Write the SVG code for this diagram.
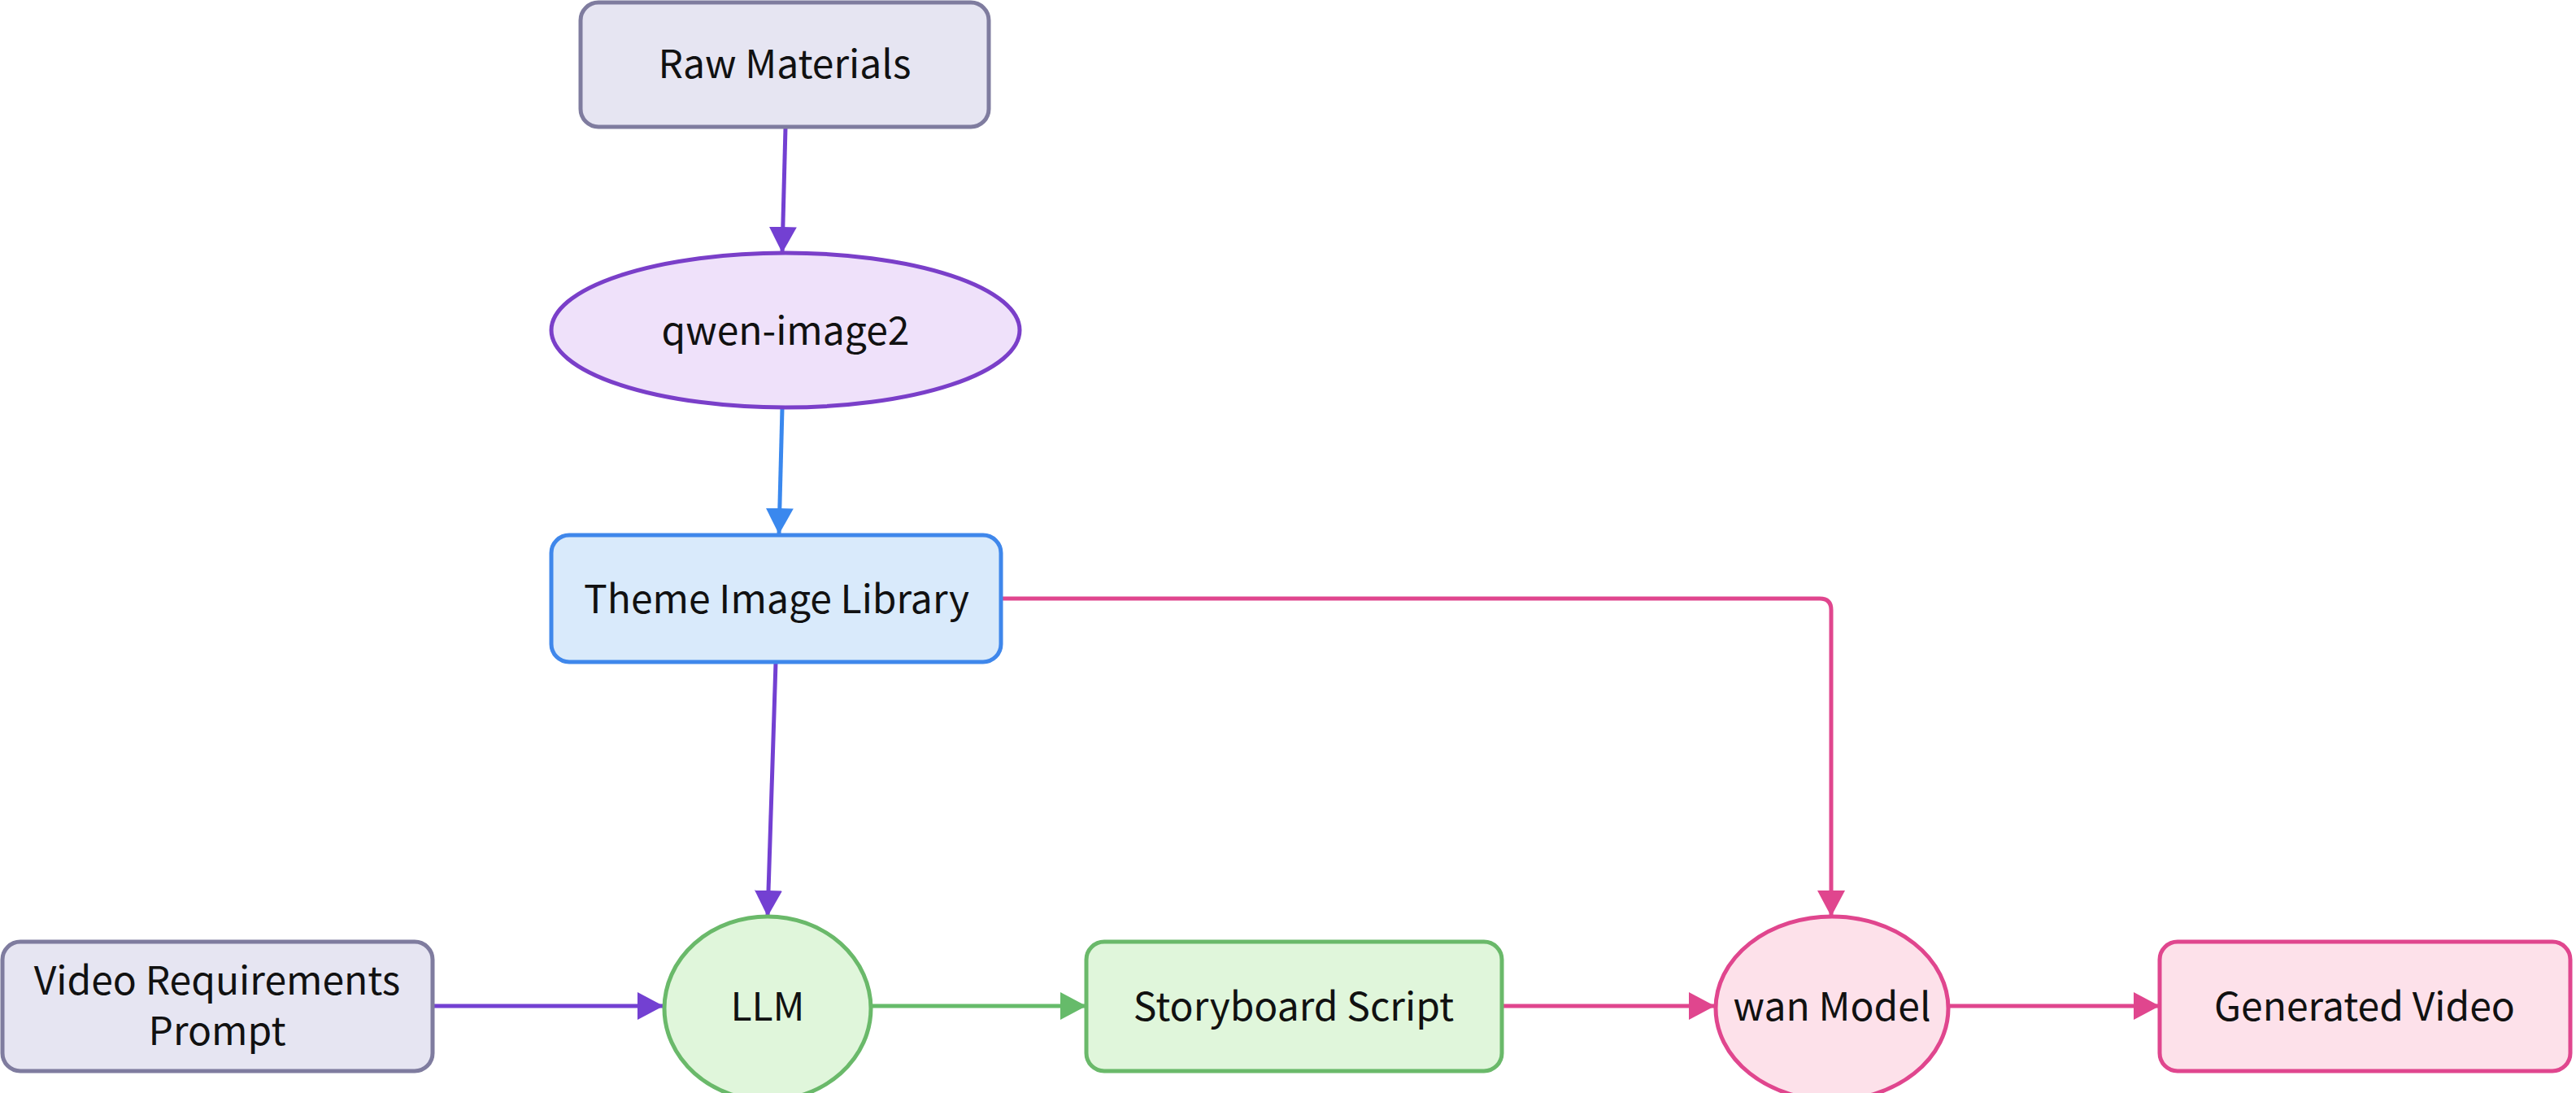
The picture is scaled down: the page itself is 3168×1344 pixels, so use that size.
<svg xmlns="http://www.w3.org/2000/svg" width="3168" height="1344" viewBox="0 0 3168 1344">
<defs>
<style>
text{font-family:"Noto Sans CJK SC","Source Sans Pro","Noto Sans",sans-serif;font-size:48px;fill:#111;text-anchor:middle}
.gray{fill:#e6e5f2;stroke:#7f7c9f;stroke-width:5}
.purple{fill:#efe1fa;stroke:#7a3fc9;stroke-width:5}
.blue{fill:#d9eafb;stroke:#3f87eb;stroke-width:5}
.green{fill:#e0f6db;stroke:#6ab96a;stroke-width:5}
.pink{fill:#fde1ea;stroke:#e0468e;stroke-width:5}
.c{fill:none;stroke-width:5}
</style>
<marker id="ap" viewBox="0 0 32 34" refX="32" refY="17" markerWidth="32" markerHeight="34" markerUnits="userSpaceOnUse" orient="auto"><path d="M0,0 L32,17 L0,34 Z" fill="#7340d2"/></marker>
<marker id="ab" viewBox="0 0 32 34" refX="32" refY="17" markerWidth="32" markerHeight="34" markerUnits="userSpaceOnUse" orient="auto"><path d="M0,0 L32,17 L0,34 Z" fill="#3a88ee"/></marker>
<marker id="ag" viewBox="0 0 32 34" refX="32" refY="17" markerWidth="32" markerHeight="34" markerUnits="userSpaceOnUse" orient="auto"><path d="M0,0 L32,17 L0,34 Z" fill="#66bb6a"/></marker>
<marker id="ak" viewBox="0 0 32 34" refX="32" refY="17" markerWidth="32" markerHeight="34" markerUnits="userSpaceOnUse" orient="auto"><path d="M0,0 L32,17 L0,34 Z" fill="#e0468e"/></marker>
</defs>
<rect width="3168" height="1344" fill="#ffffff"/>
<g id="connectors">
<path class="c" d="M966,157 L962,311" stroke="#7340d2" marker-end="url(#ap)"/>
<path class="c" d="M962,502 L958,657" stroke="#3a88ee" marker-end="url(#ab)"/>
<path class="c" d="M954,815 L944,1127" stroke="#7340d2" marker-end="url(#ap)"/>
<path class="c" d="M1233,736 L2238,736 Q2252,736 2252,750 L2252,1127" stroke="#e0468e" marker-end="url(#ak)"/>
<path class="c" d="M533,1237 L816,1237" stroke="#7340d2" marker-end="url(#ap)"/>
<path class="c" d="M1072,1237 L1336,1237" stroke="#66bb6a" marker-end="url(#ag)"/>
<path class="c" d="M1848,1237 L2109,1237" stroke="#e0468e" marker-end="url(#ak)"/>
<path class="c" d="M2396,1237 L2656,1237" stroke="#e0468e" marker-end="url(#ak)"/>
</g>
<g id="raw-materials">
<rect class="gray" x="714" y="3" width="502" height="153" rx="22"/>
<text x="965" y="96">Raw Materials</text>
</g>
<g id="qwen-image2">
<ellipse class="purple" cx="966" cy="406" rx="288" ry="95"/>
<text x="966" y="424">qwen-image2</text>
</g>
<g id="theme-image-library">
<rect class="blue" x="678" y="658" width="553" height="156" rx="22"/>
<text x="955" y="754">Theme Image Library</text>
</g>
<g id="video-requirements-prompt">
<rect class="gray" x="3" y="1158" width="529" height="159" rx="22"/>
<text x="267" y="1223">Video Requirements</text>
<text x="267" y="1285">Prompt</text>
</g>
<g id="llm">
<ellipse class="green" cx="944" cy="1240" rx="127" ry="113"/>
<text x="944" y="1255">LLM</text>
</g>
<g id="storyboard-script">
<rect class="green" x="1336" y="1158" width="511" height="159" rx="22"/>
<text x="1591" y="1255">Storyboard Script</text>
</g>
<g id="wan-model">
<ellipse class="pink" cx="2253" cy="1240" rx="143" ry="113"/>
<text x="2253" y="1255">wan Model</text>
</g>
<g id="generated-video">
<rect class="pink" x="2656" y="1158" width="505" height="159" rx="22"/>
<text x="2908" y="1255">Generated Video</text>
</g>
</svg>
